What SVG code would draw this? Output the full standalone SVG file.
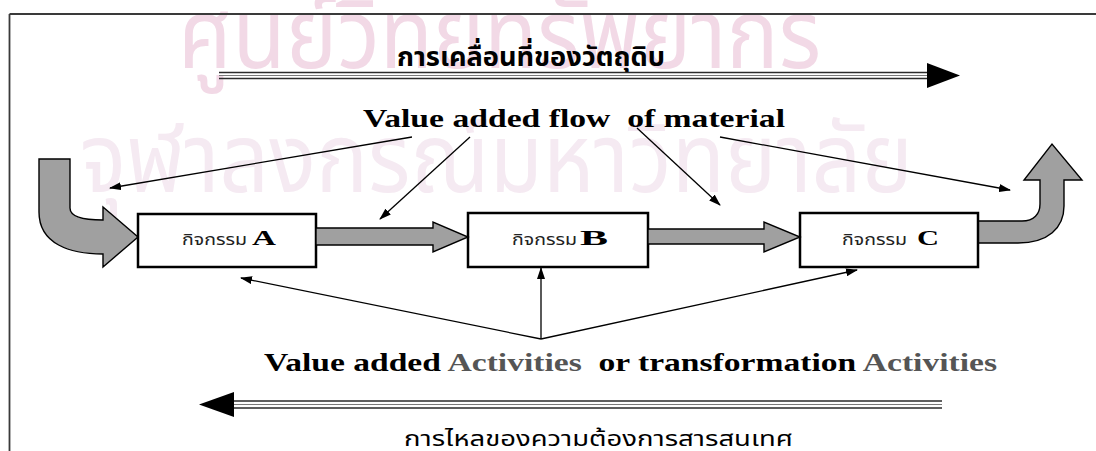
<svg xmlns="http://www.w3.org/2000/svg" width="1096" height="451" viewBox="0 0 1096 451">
  <style>
    .wm { font-family: "Noto Sans Thai", "Noto Sans Thai UI", "Tahoma", "DejaVu Sans", sans-serif; font-weight: normal; }
    .thai { font-family: "Noto Sans Thai", "Noto Sans Thai UI", "Tahoma", "DejaVu Sans", sans-serif; }
    .serif { font-family: "Liberation Serif", "Times New Roman", serif; font-weight: bold; white-space: pre; }
    .box { fill: #ffffff; stroke: #000000; stroke-width: 2.5; }
    .flow { fill: #a0a0a0; stroke: #000000; stroke-width: 1.4; stroke-linejoin: miter; }
    .thin { fill: none; stroke: #000000; stroke-width: 1.3; marker-end: url(#head); }
    .rail { stroke: #2a2a2a; stroke-width: 1.3; }
    .rail-mid { stroke: #7a7a7a; stroke-width: 1.2; }
  </style>
  <defs>
    <marker id="head" viewBox="0 0 12 8" refX="11" refY="4" markerWidth="12" markerHeight="8" markerUnits="userSpaceOnUse" orient="auto">
      <path d="M0,0 L12,4 L0,8 Z" fill="#000000"/>
    </marker>
  </defs>

  <rect x="0" y="0" width="1096" height="451" fill="#ffffff"/>

  <!-- background stamp lettering -->
  <g id="watermark">
    <text class="wm" x="178" y="68" font-size="96" fill="#f2d9e6" textLength="643" lengthAdjust="spacingAndGlyphs">ศูนย์วิทยทรัพยากร</text>
    <text class="wm" x="80" y="192" font-size="96" fill="#f5eaf2" textLength="833" lengthAdjust="spacingAndGlyphs">จุฬาลงกรณ์มหาวิทยาลัย</text>
  </g>

  <!-- frame -->
  <g id="frame" stroke="#3a3a3a" stroke-width="1.8" fill="none">
    <line x1="9.5" y1="14" x2="1096" y2="14"/>
    <line x1="9.5" y1="14" x2="9.5" y2="451"/>
  </g>

  <!-- material movement (top) -->
  <g id="material-movement">
    <text class="thai" x="397" y="66" font-size="27" font-weight="bold" fill="#000" textLength="268" lengthAdjust="spacingAndGlyphs">การเคลื่อนที่ของวัตถุดิบ</text>
    <line class="rail" x1="219" y1="72.5" x2="930" y2="72.5"/>
    <line class="rail-mid" x1="219" y1="75.5" x2="930" y2="75.5"/>
    <line class="rail" x1="219" y1="78.5" x2="930" y2="78.5"/>
    <path d="M927,63 L960,75.5 L927,88 Z" fill="#000"/>
  </g>

  <!-- information demand flow (bottom) -->
  <g id="information-flow">
    <line class="rail" x1="230" y1="401" x2="942" y2="401"/>
    <line class="rail-mid" x1="230" y1="404.5" x2="942" y2="404.5"/>
    <line class="rail" x1="230" y1="408" x2="942" y2="408"/>
    <path d="M234,392 L199,404.5 L234,417 Z" fill="#000"/>
    <text class="thai" x="404" y="446" font-size="22" fill="#000" textLength="389" lengthAdjust="spacingAndGlyphs">การไหลของความต้องการสารสนเทศ</text>
  </g>

  <g id="label-flow">
    <text class="serif" x="363" y="127" font-size="25" fill="#000" textLength="422" lengthAdjust="spacingAndGlyphs">Value added flow  of material</text>
  </g>

  <g id="label-activities">
    <text class="serif" x="264" y="371" font-size="25" fill="#000" textLength="733" lengthAdjust="spacingAndGlyphs">Value added <tspan fill="#555555">Activities</tspan>  or transformation <tspan fill="#555555">Activities</tspan></text>
  </g>

  <!-- inflow into the first activity -->
  <g id="inflow">
    <path class="flow" d="M39,159 L70,159 L70,208 C70,216 80,220 103,220 L103,207 L138,237 L103,267 L103,254 C70,254 39,244 39,212 Z"/>
  </g>

  <!-- outflow after the last activity -->
  <g id="outflow">
    <path class="flow" d="M978,221 L1022,221 C1034,221 1040,214 1040,204 L1040,180 L1024,180 L1052,144 L1082,180 L1064,180 L1064,206 C1064,228 1048,243 1018,243 L978,243 Z"/>
  </g>

  <g id="node-a">
    <rect class="box" x="138" y="214" width="178" height="53"/>
    <text class="thai" x="182" y="245" font-size="15" fill="#222" textLength="65" lengthAdjust="spacingAndGlyphs">กิจกรรม</text>
    <text class="serif" x="252" y="245" font-size="20" fill="#000" textLength="24" lengthAdjust="spacingAndGlyphs">A</text>
  </g>

  <g id="node-b">
    <rect class="box" x="468" y="213" width="180" height="54"/>
    <text class="thai" x="512" y="245" font-size="15" fill="#222" textLength="65" lengthAdjust="spacingAndGlyphs">กิจกรรม</text>
    <text class="serif" x="580" y="245" font-size="20" fill="#000" textLength="28" lengthAdjust="spacingAndGlyphs">B</text>
  </g>

  <g id="node-c">
    <rect class="box" x="800" y="213" width="178" height="54"/>
    <text class="thai" x="842" y="245" font-size="15" fill="#222" textLength="65" lengthAdjust="spacingAndGlyphs">กิจกรรม</text>
    <text class="serif" x="917" y="245" font-size="20" fill="#000" textLength="22" lengthAdjust="spacingAndGlyphs">C</text>
  </g>

  <g id="connectors">
    <!-- value-added material flow between activities -->
    <path class="flow" d="M316,228 L433,228 L433,222 L468,237 L433,252 L433,245 L316,245 Z"/>
    <path class="flow" d="M648,229 L764,229 L764,222 L800,237 L764,252 L764,244 L648,244 Z"/>

    <!-- callouts from "Value added flow of material" -->
    <line class="thin" x1="412" y1="137" x2="110" y2="188"/>
    <line class="thin" x1="470" y1="137" x2="380" y2="219"/>
    <line class="thin" x1="637" y1="128" x2="720" y2="205"/>
    <line class="thin" x1="720" y1="137" x2="1010" y2="190"/>

    <!-- callouts from "Value added Activities" -->
    <line class="thin" x1="541" y1="339" x2="241" y2="278"/>
    <line class="thin" x1="541" y1="339" x2="541" y2="268"/>
    <line class="thin" x1="541" y1="339" x2="857" y2="270"/>
  </g>
</svg>
